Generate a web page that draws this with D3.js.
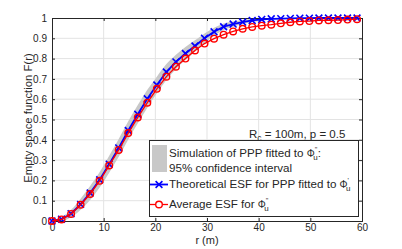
<!DOCTYPE html>
<html><head><meta charset="utf-8">
<script src="https://cdn.jsdelivr.net/npm/d3@7"></script>
<style>body{margin:0;background:#fff;} text{font-family:"Liberation Sans",Arial,sans-serif;fill:#262626;}</style>
</head><body>
<svg id="c" width="402" height="249"></svg>
<script>
const rValues = d3.range(33).map(i => +(i * 1.845).toFixed(3));
const theoretical = [0,0.009,0.036,0.082,0.138,0.203,0.280,0.360,0.446,0.526,0.602,0.670,0.734,0.784,0.825,0.862,0.900,0.932,0.957,0.970,0.980,0.988,0.993,0.996,0.997,0.998,0.999,0.999,1,1,1,1,1];
const average = [0,0.008,0.035,0.080,0.133,0.198,0.274,0.350,0.433,0.510,0.583,0.651,0.711,0.760,0.800,0.840,0.874,0.898,0.918,0.934,0.947,0.956,0.962,0.967,0.974,0.979,0.983,0.985,0.988,0.989,0.990,0.992,0.994];
const ciLower = [0,0.000,0.018,0.055,0.104,0.165,0.238,0.316,0.401,0.481,0.558,0.629,0.695,0.749,0.793,0.834,0.876,0.912,0.941,0.957,0.970,0.980,0.987,0.992,0.994,0.996,0.997,0.998,0.999,0.999,0.999,0.999,0.999];
const ciUpper = [0.004,0.019,0.055,0.110,0.172,0.241,0.322,0.404,0.491,0.571,0.646,0.711,0.773,0.819,0.857,0.890,0.924,0.952,0.973,0.983,0.990,0.995,0.998,1,1,1,1,1,1,1,1,1,1];
const xTicks = [0,10,20,30,40,50,60];
const yTicks = [0,0.1,0.2,0.3,0.4,0.5,0.6,0.7,0.8,0.9,1];

const svg = d3.select("#c");
const L = 52, R = 362, T = 18, B = 221;
const x = d3.scaleLinear().domain([0,60]).range([L,R]);
const y = d3.scaleLinear().domain([0,1]).range([B,T]);

// grid
const g = svg.append("g");
g.selectAll(".gx").data(xTicks.slice(1,-1)).enter().append("line")
  .attr("x1",d=>x(d)).attr("x2",d=>x(d)).attr("y1",T).attr("y2",B)
  .attr("stroke","#e3e3e3").attr("stroke-width",1);
g.selectAll(".gy").data(yTicks.slice(1,-1)).enter().append("line")
  .attr("y1",d=>y(d)).attr("y2",d=>y(d)).attr("x1",L).attr("x2",R)
  .attr("stroke","#e3e3e3").attr("stroke-width",1);

// band
const idx = d3.range(rValues.length);
svg.append("path").datum(idx)
  .attr("d", d3.area().x(i=>x(rValues[i])).y0(i=>y(ciLower[i])).y1(i=>y(ciUpper[i])).curve(d3.curveMonotoneX))
  .attr("fill","#c8c8c8");

// axes
const ax = d3.axisBottom(x).tickValues(xTicks).tickSize(-3).tickPadding(3);
const ay = d3.axisLeft(y).tickValues(yTicks).tickSize(-3).tickPadding(5).tickFormat(d3.format("~g"));
svg.append("g").attr("transform",`translate(0,${B})`).call(ax);
svg.append("g").attr("transform",`translate(${L},0)`).call(ay);
svg.append("g").attr("transform",`translate(0,${T})`).call(d3.axisTop(x).tickValues(xTicks).tickSize(-3).tickFormat(""));
svg.append("g").attr("transform",`translate(${R},0)`).call(d3.axisRight(y).tickValues(yTicks).tickSize(-3).tickFormat(""));
svg.selectAll(".domain").attr("stroke","#262626").attr("stroke-width",1);
svg.selectAll(".tick line").attr("stroke","#262626");
svg.selectAll(".tick text").style("font-size","10px").attr("fill","#262626");

// blue line
const xm = 3.4;
svg.append("path").datum(idx)
  .attr("d", d3.line().x(i=>x(rValues[i])).y(i=>y(theoretical[i])))
  .attr("fill","none").attr("stroke","#0000ff").attr("stroke-width",1.8);
svg.append("g").selectAll("path").data(idx).enter().append("path")
  .attr("d", i=>{const cx=x(rValues[i]), cy=y(theoretical[i]);
    return `M${cx-xm},${cy-xm}L${cx+xm},${cy+xm}M${cx-xm},${cy+xm}L${cx+xm},${cy-xm}`;})
  .attr("stroke","#0000ff").attr("stroke-width",1.6);

// red line
svg.append("path").datum(idx)
  .attr("d", d3.line().x(i=>x(rValues[i])).y(i=>y(average[i])))
  .attr("fill","none").attr("stroke","#ff0000").attr("stroke-width",1.3);
svg.append("g").selectAll("circle").data(idx).enter().append("circle")
  .attr("cx",i=>x(rValues[i])).attr("cy",i=>y(average[i])).attr("r",3.3)
  .attr("fill","none").attr("stroke","#ff0000").attr("stroke-width",1.4);

// labels
svg.append("text").attr("x",207).attr("y",244).attr("text-anchor","middle")
  .style("font-size","11px").text("r (m)");
svg.append("text").attr("transform","translate(32,118) rotate(-90)").attr("text-anchor","middle")
  .style("font-size","11.3px").text("Empty space function F(r)");

// annotation
const ann = svg.append("text").attr("x",249).attr("y",138).style("font-size","11.5px");
ann.append("tspan").text("R");
ann.append("tspan").attr("dy",3).style("font-size","8.5px").text("c");
ann.append("tspan").attr("dy",-3).text(" = 100m, p = 0.5");

// legend
const lg = svg.append("g");
lg.append("rect").attr("x",149.5).attr("y",140.5).attr("width",209).attr("height",76)
  .attr("fill","#fff").attr("stroke","#262626").attr("stroke-width",1);
lg.append("rect").attr("x",152).attr("y",145).attr("width",15).attr("height",27).attr("fill","#c8c8c8");
function phiText(tx, ty, pre, sup, post){
  const t = lg.append("text").attr("x",tx).attr("y",ty).style("font-size","11.6px");
  t.append("tspan").text(pre);
  t.append("tspan").style("font-size","10px").text("\u03A6");
  t.append("tspan").attr("dy",-5).style("font-size","7px").text(sup);
  t.append("tspan").attr("dx",-(sup.length*1.3+1.5)).attr("dy",8).style("font-size","8px").text("u");
  t.append("tspan").attr("dy",-3).text(post);
}
phiText(169,157,"Simulation of PPP fitted to ","''",":");
lg.append("text").attr("x",169).attr("y",172).style("font-size","11.6px").text("95% confidence interval");
phiText(169,188,"Theoretical ESF for PPP fitted to ","'","");
phiText(169,208,"Average ESF for ","''","");
lg.append("line").attr("x1",150).attr("x2",168).attr("y1",184.5).attr("y2",184.5).attr("stroke","#0000ff").attr("stroke-width",1.8);
lg.append("path").attr("d",`M${159-xm},${184.5-xm}L${159+xm},${184.5+xm}M${159-xm},${184.5+xm}L${159+xm},${184.5-xm}`)
  .attr("stroke","#0000ff").attr("stroke-width",1.6);
lg.append("line").attr("x1",150).attr("x2",168).attr("y1",204.5).attr("y2",204.5).attr("stroke","#ff0000").attr("stroke-width",1.3);
lg.append("circle").attr("cx",159).attr("cy",204.5).attr("r",3.3).attr("fill","#fff").attr("stroke","#ff0000").attr("stroke-width",1.4);
</script>
</body></html>
